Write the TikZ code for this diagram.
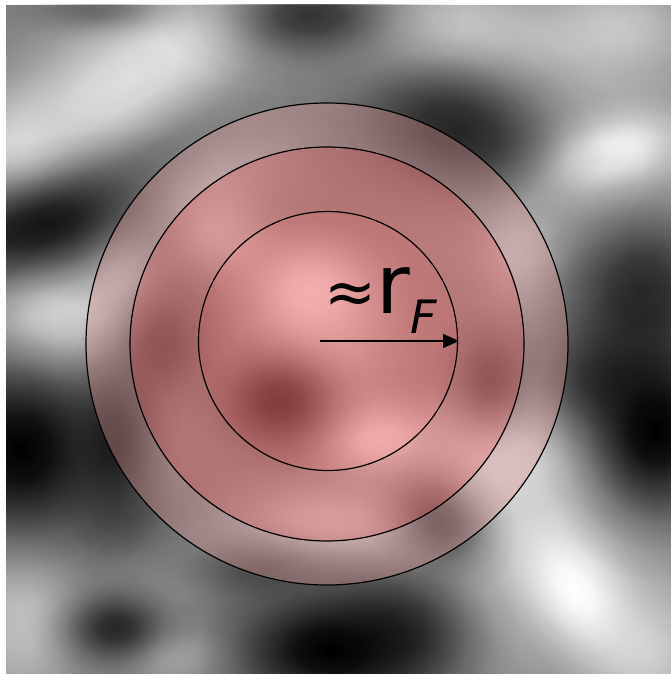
\documentclass[tikz,border=0pt]{standalone}
\usepackage{fontspec}
\setmainfont{DejaVu Sans}
\usetikzlibrary{arrows.meta,fadings}

% soft round blob used for the blurred background
\pgfdeclareradialshading{blobshade}{\pgfpointorigin}{color(0bp)=(white); color(5bp)=(white!88!black); color(10bp)=(white!58!black); color(15bp)=(white!28!black); color(20bp)=(white!9!black); color(25bp)=(black); color(50bp)=(black)}
\pgfdeclarefading{blob}{\pgfuseshading{blobshade}}

\definecolor{outerred}{RGB}{220,150,150}
\definecolor{midred}{RGB}{230,110,110}
\definecolor{innerred}{RGB}{255,100,100}

\begin{document}
\begin{tikzpicture}[x=1pt, y=-1pt,
		ring/.style={draw=black, line width=1.2pt},
		label/.style={anchor=base west, inner sep=0pt}]

		% Frame and plain grey ground
		\useasboundingbox (0,0) rectangle (671,674);
		\fill[white] (0,0) rectangle (671,674);
		\fill[black!50] (6,5) rectangle (671,674);

		% Blurred noise: light patches, then dark patches
		\begin{scope}
			\clip (6,5) rectangle (671,674);
			\foreach \x/\y/\a/\b/\ang/\c/\o in {
				125/80/170/70/30/white/0.75, 210/30/70/35/20/white/0.4, 15/150/50/50/0/white/0.5,
				55/320/70/60/0/white/0.7, 440/35/150/60/-5/white/0.65, 620/25/80/50/0/white/0.5,
				590/170/150/100/15/white/0.55, 600/158/70/35/15/white/1, 600/158/40/20/15/white/0.9,
				560/560/150/110/-45/white/0.6,
				575/590/70/40/-55/white/1, 500/460/80/60/0/white/0.6, 20/620/60/90/0/white/0.5,
				180/655/60/30/0/white/0.35, 180/570/60/40/0/white/0.2, 650/655/60/60/0/white/0.5,
				330/340/80/80/0/white/0.45, 220/235/55/40/-30/white/0.5,
				310/290/60/50/0/white/0.8, 380/440/60/40/0/white/0.8, 330/520/90/40/0/white/0.6,
				200/170/80/60/0/white/0.4, 120/270/40/60/0/white/0.4, 520/250/40/60/0/white/0.4,
				310/15/90/45/0/black/0.7, 100/10/60/20/0/black/0.3, 40/225/110/50/15/black/0.85,
				170/150/90/35/25/black/0.3, 460/130/110/70/-20/black/0.75, 640/290/80/90/0/black/0.7,
				655/430/70/90/0/black/1, 600/380/60/50/0/black/0.5, 20/450/90/90/0/black/1,
				115/440/40/70/0/black/0.7, 115/628/50/35/0/black/0.7, 330/650/100/60/0/black/1,
				400/630/70/60/0/black/0.6, 280/400/55/45/0/black/0.8, 160/345/45/55/0/black/0.55,
				440/520/50/40/-40/black/0.6, 490/380/35/45/0/black/0.55, 250/570/80/30/0/black/0.4,
				130/520/60/50/0/black/0.3}
			{
				\begin{scope}[transform canvas={shift={(\x,\y)}, rotate=\ang}]
					\fill[\c, fill opacity=\o, path fading=blob] (0,0) ellipse [x radius=1.7*\a pt, y radius=1.7*\b pt];
				\end{scope}
			}
		\end{scope}

		% Centres of the rings and end of the radius arrow
		\coordinate (ctr) at (327,344);
		\coordinate (core) at (328,341);
		\coordinate (start) at (320,341);
		\coordinate (rim) at (459,341);

		% Tinted rings
		\fill[outerred, fill opacity=0.375, even odd rule] (ctr) circle [radius=241pt] (ctr) circle [radius=197pt];
		\fill[midred, fill opacity=0.5, even odd rule] (ctr) circle [radius=197pt] (core) circle [radius=129.5pt];
		\fill[innerred, fill opacity=0.45] (core) circle [radius=129.5pt];
		\draw[ring] (ctr) circle [radius=241pt];
		\draw[ring] (ctr) circle [radius=197pt];
		\draw[ring] (core) circle [radius=129.5pt];

		% Radius arrow and its label
		\draw[-{Triangle[length=16pt, width=14pt]}, line width=1.4pt] (start) -- (rim);
		\node[label] (lbl) at (324,313) {\fontsize{62}{62}\selectfont ≈\fontsize{82}{82}\selectfont r\kern1pt\raisebox{-20pt}{\fontsize{46}{46}\selectfont\itshape F}};

	\end{tikzpicture}
\end{document}
